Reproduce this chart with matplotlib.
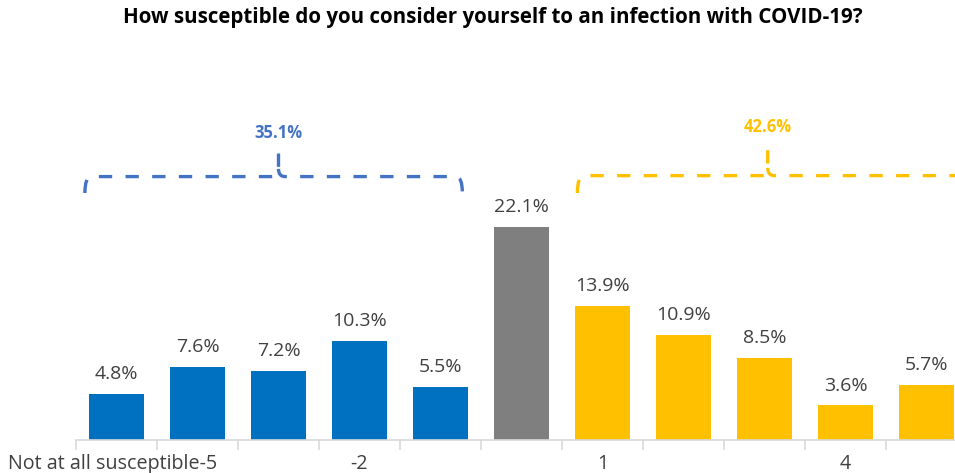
import numpy as np
import matplotlib
matplotlib.use("Agg")
import matplotlib.pyplot as plt
from matplotlib.path import Path
from matplotlib.patches import PathPatch

plt.rcParams['font.family'] = ['Open Sans', 'DejaVu Sans']

# survey answers, -5 (not at all susceptible) .. 5
categories = ['Not at all susceptible-5', '-4', '-3', '-2', '-1', '0', '1', '2', '3', '4', '5']
shares = [4.8, 7.6, 7.2, 10.3, 5.5, 22.1, 13.9, 10.9, 8.5, 3.6, 5.7]
shown_ticks = [0, 3, 6, 9]
group_labels = ['35.1%', '42.6%']

BLUE = '#0070C0'
GREY = '#7F7F7F'
YELLOW = '#FFC000'
colors = [BLUE] * 5 + [GREY] + [YELLOW] * 5

fig = plt.figure(figsize=(9.55, 4.73), dpi=100)
# axes runs past the right edge, so the last bar is cut
ax = fig.add_axes([76 / 955, 33 / 473, 891 / 955, 440 / 473])
x = np.arange(len(shares))
ax.bar(x, shares, width=0.68, color=colors, zorder=2)
ax.set_xlim(-0.5, 10.5)
ax.set_ylim(0, 45.6)

for xi, v in zip(x, shares):
    ax.text(xi, v + 1.1, f'{v:.1f}%', ha='center', va='bottom',
            fontsize=14, color='#404040')

for s in ['top', 'right', 'left']:
    ax.spines[s].set_visible(False)
ax.spines['bottom'].set_color('#D9D9D9')
ax.spines['bottom'].set_linewidth(1.2)
ax.set_yticks([])
ax.set_xticks(np.arange(-0.5, 11, 1))
ax.set_xticklabels([])
ax.tick_params(axis='x', length=7, color='#D9D9D9', width=1.2)
for i in shown_ticks:
    ax.text(i - (0.05 if i == 0 else 0), -1.4, categories[i], ha='center', va='top',
            fontsize=14.2, color='#404040', clip_on=False)

fig.text(0.516, 0.963, 'How susceptible do you consider yourself to an infection with COVID-19?',
         ha='center', va='center', fontsize=14.8, fontweight='bold', color='black')


def brace(x0, x1, xm, y, hook, tip, color, label, gap):
    dx = 0.08
    verts = [(x0, y - hook), (x0, y), (x0 + dx, y),
             (xm - dx, y), (xm, y), (xm, y + 0.8),
             (xm, y + tip)]
    codes = [Path.MOVETO, Path.CURVE3, Path.CURVE3,
             Path.LINETO, Path.CURVE3, Path.CURVE3,
             Path.LINETO]
    right = [(xm, y + 0.8), (xm, y), (xm + dx, y),
             (x1 - dx, y), (x1, y), (x1, y - hook)]
    rcodes = [Path.MOVETO, Path.CURVE3, Path.CURVE3,
              Path.LINETO, Path.CURVE3, Path.CURVE3]
    for v, c in [(verts, codes), (right, rcodes)]:
        p = PathPatch(Path(v, c), fill=False, edgecolor=color, lw=2.4,
                      linestyle=(0, (4, 4)), clip_on=False, zorder=3)
        ax.add_patch(p)
    ax.text(xm, y + tip + gap, label, ha='center', va='bottom', fontsize=12,
            fontweight='bold', color=color, clip_on=False)


brace(-0.39, 4.27, 2.0, 27.3, 1.7, 3.0, '#4472C4', group_labels[0], 0.55)
brace(5.69, 10.7, 8.04, 27.4, 1.8, 3.1, YELLOW, group_labels[1], 1.0)

fig.savefig('out.png', dpi=100)
